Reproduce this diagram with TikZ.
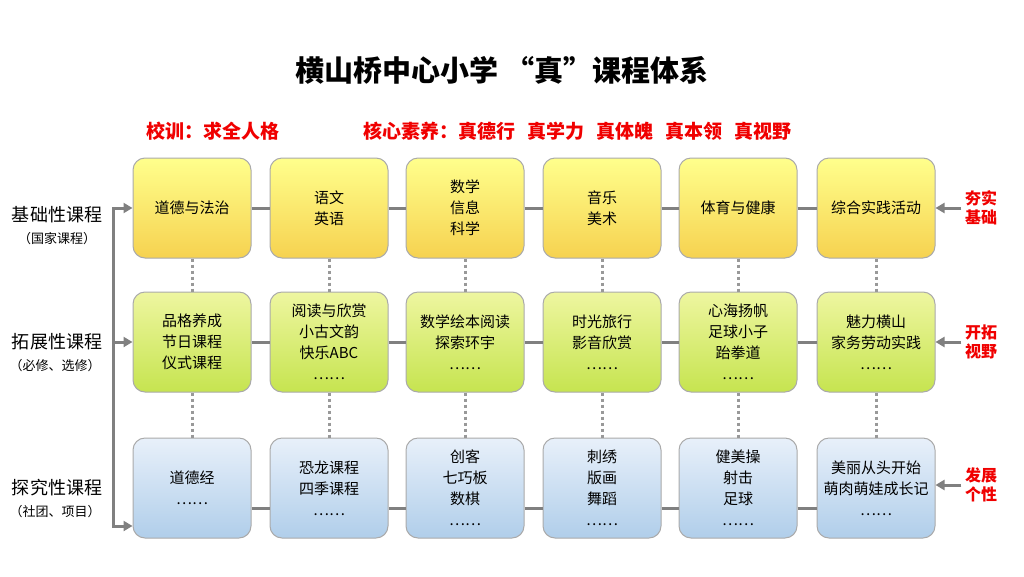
\documentclass[tikz,border=0pt]{standalone}
\usepackage{fontspec}
\setmainfont{Noto Sans CJK SC}
\usetikzlibrary{arrows.meta,positioning}
\definecolor{linkgray}{RGB}{128,128,128}
\definecolor{boxedge}{RGB}{170,170,170}
\definecolor{hotred}{RGB}{240,0,0}
\tikzset{
  course/.style={draw=boxedge, line width=1pt, rounded corners=12pt,
    minimum width=118pt, minimum height=100pt, align=center,
    font=\fontsize{15}{21}\selectfont},
  basic/.style={course, top color=yellow!45!white, bottom color={rgb,255:red,246;green,210;blue,80}},
  expand/.style={course, top color={rgb,255:red,238;green,246;blue,160}, bottom color={rgb,255:red,198;green,228;blue,80}},
  explore/.style={course, top color={rgb,255:red,232;green,240;blue,250}, bottom color={rgb,255:red,176;green,206;blue,234}},
  link/.style={draw=linkgray, line width=3pt},
  dots/.style={draw=linkgray!80, line width=3pt, dash pattern=on 3pt off 3pt},
  feed/.style={draw=linkgray, line width=3pt, -{Triangle[length=9pt,width=10pt]}},
  rowname/.style={font=\fontsize{18}{20}\selectfont},
  rownote/.style={font=\fontsize{13}{15}\selectfont},
  aim/.style={text=hotred, font=\bfseries\fontsize{16}{19}\selectfont, align=center}
}
\begin{document}
\begin{tikzpicture}[x=1pt,y=-1pt]
  \useasboundingbox[fill=white] (0,0) rectangle (1024,576);

  \node (title) at (502,70) {\bfseries\fontsize{29}{31}\selectfont 横山桥中心小学 “真”课程体系};
  \node[text=hotred, font=\bfseries\fontsize{19}{21}\selectfont] (motto) at (213,131) {校训：求全人格};
  \node[text=hotred, font=\bfseries\fontsize{19}{21}\selectfont, anchor=west] (core) at (360,131)
    {核心素养：真德行\hspace{12pt}真学力\hspace{12pt}真体魄\hspace{12pt}真本领\hspace{12pt}真视野};

  % basic courses
  \node[basic] (r1c1) at (192,208) {道德与法治};
  \node[basic] (r1c2) at (329,208) {语文\\英语};
  \node[basic] (r1c3) at (465,208) {数学\\信息\\科学};
  \node[basic] (r1c4) at (602,208) {音乐\\美术};
  \node[basic] (r1c5) at (738,208) {体育与健康};
  \node[basic] (r1c6) at (876,208) {综合实践活动};

  % expanded courses
  \node[expand] (r2c1) at (192,342) {品格养成\\节日课程\\仪式课程};
  \node[expand] (r2c2) at (329,342) {阅读与欣赏\\小古文韵\\快乐ABC\\……};
  \node[expand] (r2c3) at (465,342) {数学绘本阅读\\探索环宇\\……};
  \node[expand] (r2c4) at (602,342) {时光旅行\\影音欣赏\\……};
  \node[expand] (r2c5) at (738,342) {心海扬帆\\足球小子\\跆拳道\\……};
  \node[expand] (r2c6) at (876,342) {魅力横山\\家务劳动实践\\……};

  % exploring courses
  \node[explore] (r3c1) at (192,488) {道德经\\……};
  \node[explore] (r3c2) at (329,488) {恐龙课程\\四季课程\\……};
  \node[explore] (r3c3) at (465,488) {创客\\七巧板\\数棋\\……};
  \node[explore] (r3c4) at (602,488) {刺绣\\版画\\舞蹈\\……};
  \node[explore] (r3c5) at (738,488) {健美操\\射击\\足球\\……};
  \node[explore] (r3c6) at (876,488) {美丽从头开始\\萌肉萌娃成长记\\……};

  \foreach \i/\j in {1/2,2/3,3/4,4/5,5/6} {
    \draw[link] (r1c\i.east) -- (r1c\j.west);
    \draw[link] (r2c\i.east) -- (r2c\j.west);
    \draw[link] ([yshift=-20pt]r3c\i.east) -- ([yshift=-20pt]r3c\j.west);
  }
  \foreach \k in {1,...,6} {
    \draw[dots] (r1c\k.south) -- (r2c\k.north);
    \draw[dots] (r2c\k.south) -- (r3c\k.north);
  }

  % left bracket
  \coordinate (br1) at (113,208);
  \coordinate (br2) at (113,342);
  \coordinate (br3) at (113,526);
  \draw[link, line cap=rect] (br1) -- (br3);
  \draw[feed] (br1) -- (r1c1.west);
  \draw[feed] (br2) -- (r2c1.west);
  \draw[feed] (br3) -- (r3c1.west |- br3);

  \node[rowname] (k1) at (57,215) {基础性课程};
  \node[rownote] (n1) at (57,239) {（国家课程）};
  \node[rowname] (k2) at (57,342) {拓展性课程};
  \node[rownote] (n2) at (55,366) {（必修、选修）};
  \node[rowname] (k3) at (57,488) {探究性课程};
  \node[rownote] (n3) at (55,512) {（社团、项目）};

  % right aims
  \node[aim] (a1) at (981,208) {夯实\\基础};
  \node[aim] (a2) at (981,342) {开拓\\视野};
  \node[aim] (a3) at (981,485) {发展\\个性};
  \draw[feed] (a1.west) -- (r1c6.east);
  \draw[feed] (a2.west) -- (r2c6.east);
  \draw[feed] (a3.west) -- (r3c6.east |- a3);
\end{tikzpicture}
\end{document}
